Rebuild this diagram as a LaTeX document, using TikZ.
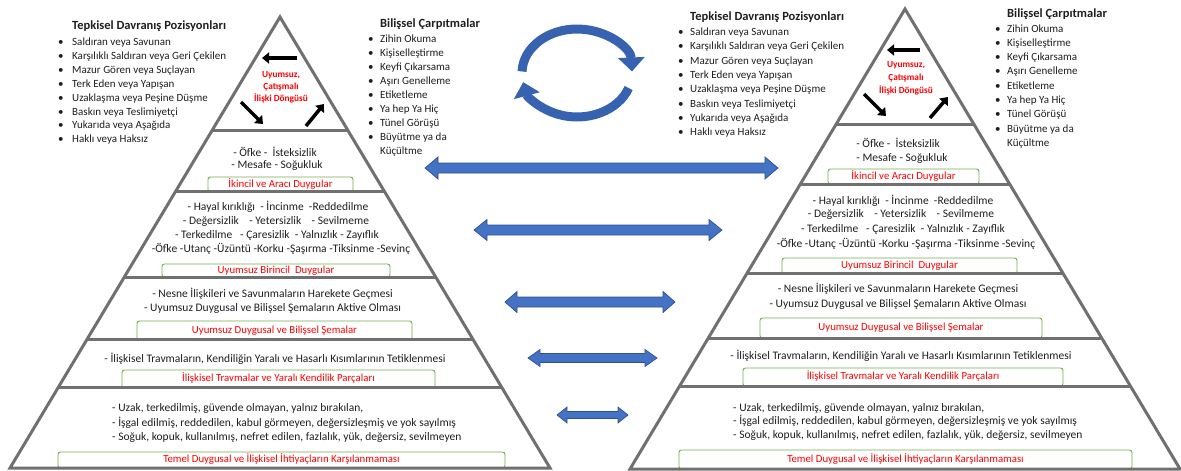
\documentclass[tikz,border=0pt]{standalone}
\usepackage{fontspec}
\setmainfont{Carlito}
\usetikzlibrary{arrows.meta,calc}
\definecolor{pgray}{RGB}{112,112,112}
\definecolor{gboxc}{RGB}{112,173,71}
\definecolor{redt}{RGB}{255,0,0}
\definecolor{bluef}{RGB}{68,114,196}
\definecolor{blued}{RGB}{47,82,143}
\definecolor{bluec}{RGB}{55,98,175}
\definecolor{txt}{RGB}{30,30,30}
\begin{document}
\begin{tikzpicture}[x=1pt,y=-1pt,
 pyr/.style={draw=pgray, line width=3pt, line join=miter},
 gbox/.style={draw=gboxc, line width=0.9pt, rounded corners=2.5pt, inner sep=0pt, text=redt, font=\fontsize{10.8}{12}\selectfont, text height=7.4pt, text depth=2pt},
 lst/.style={anchor=base west, inner sep=0pt, text=txt, font=\fontsize{11}{13}\selectfont},
 ttl/.style={anchor=base west, inner sep=0pt, text=txt, font=\bfseries\fontsize{12.5}{14}\selectfont},
 tier/.style={anchor=base, inner sep=0pt, text=txt, font=\fontsize{11.5}{13}\selectfont},
 tierl/.style={tier, anchor=base west},
 looptxt/.style={anchor=center, align=center, inner sep=0pt, text=redt, font=\bfseries\fontsize{9.3}{12}\selectfont},
 blk/.style={line width=3.5pt, -{Triangle[length=7pt,width=11pt]}},
 barrow/.style={fill=bluef, draw=blued, line width=0.7pt, line join=miter},
 carrow/.style={draw=bluec, line width=9pt, -{Triangle[length=14pt,width=26pt]}}
]
\useasboundingbox (0,0) rectangle (1181,471);

% ---------------- LEFT PYRAMID ----------------
\node[ttl] (LT0) at (72,29.5) {Tepkisel Davranış Pozisyonları};
\foreach \t [count=\i] in {Saldıran veya Savunan, Karşılıklı Saldıran veya Geri Çekilen, Mazur Gören veya Suçlayan, Terk Eden veya Yapışan, Uzaklaşma veya Peşine Düşme, Baskın veya Teslimiyetçi, Yukarıda veya Aşağıda, Haklı veya Haksız}{
  \node[lst] (LTb\i) at (58,{45.5+13.9*(\i-1)}) {•};
  \node[lst] (LT\i) at (72,{45.5+13.9*(\i-1)}) {\t};
}
\node[ttl] (LC0) at (380,27.8) {Bilişsel Çarpıtmalar};
\foreach \t [count=\i] in {Zihin Okuma, Kişiselleştirme, Keyfi Çıkarsama, Aşırı Genelleme, Etiketleme, Ya hep Ya Hiç, Tünel Görüşü, Büyütme ya da}{
  \node[lst] (LCb\i) at (368,{42+14.05*(\i-1)}) {•};
  \node[lst] (LC\i) at (380,{42+14.05*(\i-1)}) {\t};
}
\node[lst] (LC9) at (380,{42+14.05*8}) {Küçültme};

% boxes
\node[gbox, minimum width=145pt, minimum height=15pt] (LB2) at (280.5,184.5) {İkincil ve Aracı Duygular};
\node[gbox, minimum width=228pt, minimum height=13pt] (LB3) at (276,270.5) {Uyumsuz Birincil\ \ Duygular};
\node[gbox, minimum width=275pt, minimum height=19pt] (LB4) at (274.5,330.5) {Uyumsuz Duygusal ve Bilişsel Şemalar};
\node[gbox, minimum width=313pt, minimum height=18pt] (LB5) at (278.5,379) {İlişkisel Travmalar ve Yaralı Kendilik Parçaları};
\node[gbox, minimum width=447pt, minimum height=16pt] (LB6) at (281.5,460) {Temel Duygusal ve İlişkisel İhtiyaçların Karşılanmaması};

% tier texts
\node[tier] (L21) at (275,156) {- Öfke -\ \ İsteksizlik};
\node[tier] (L22) at (277,168) {- Mesafe - Soğukluk};
\node[tier] (L31) at (278,210.5) {- Hayal kırıklığı\ \ - İncinme\ \ -Reddedilme};
\node[tier] (L32) at (276,224) {- Değersizlik\ \ \ \ - Yetersizlik\ \ \ \ - Sevilmeme};
\node[tier] (L33) at (277,238.5) {- Terkedilme\ \ \ - Çaresizlik\ \ - Yalnızlık - Zayıflık};
\node[tier] (L34) at (281,252.5) {-Öfke -Utanç -Üzüntü -Korku -Şaşırma -Tiksinme -Sevinç};
\node[tier] (L41) at (272.5,297.5) {- Nesne İlişkileri ve Savunmaların Harekete Geçmesi};
\node[tier] (L42) at (272.5,311.5) {- Uyumsuz Duygusal ve Bilişsel Şemaların Aktive Olması};
\node[tier] (L51) at (275,362.5) {- İlişkisel Travmaların, Kendiliğin Yaralı ve Hasarlı Kısımlarının Tetiklenmesi};
\node[tierl] (L61) at (112,411.5) {- Uzak, terkedilmiş, güvende olmayan, yalnız bırakılan,};
\node[tierl] (L62) at (112,426.5) {- İşgal edilmiş, reddedilen, kabul görmeyen, değersizleşmiş ve yok sayılmış};
\node[tierl] (L63) at (112,440) {- Soğuk, kopuk, kullanılmış, nefret edilen, fazlalık, yük, değersiz, sevilmeyen};

% outline
\coordinate (LA) at (280,17); \coordinate (LL) at (10,468); \coordinate (LR) at (550,468);
\draw[pyr] (LA) -- (LL) -- (LR) -- cycle;
\foreach \y [count=\i] in {131,192,277,340,388}
  \draw[pyr] ($(LA)!{(\y-17)/451}!(LL)$) coordinate (Ll\i) -- ($(LA)!{(\y-17)/451}!(LR)$) coordinate (Lr\i);

% top loop
\node[looptxt] (LLoop) at (281,87) {Uyumsuz,\\Çatışmalı\\İlişki Döngüsü};
\coordinate (la1) at (297,58); \coordinate (la2) at (262,58);
\coordinate (lb1) at (241,102); \coordinate (lb2) at (263,124);
\coordinate (lc1) at (306,126); \coordinate (lc2) at (324,104);
\draw[blk] (la1) -- (la2);
\draw[blk] (lb1) -- (lb2);
\draw[blk] (lc1) -- (lc2);

% ---------------- RIGHT PYRAMID ----------------
\node[ttl] (RT0) at (690,20.5) {Tepkisel Davranış Pozisyonları};
\foreach \t [count=\i] in {Saldıran veya Savunan, Karşılıklı Saldıran veya Geri Çekilen, Mazur Gören veya Suçlayan, Terk Eden veya Yapışan, Uzaklaşma veya Peşine Düşme, Baskın veya Teslimiyetçi, Yukarıda veya Aşağıda, Haklı veya Haksız}{
  \node[lst] (RTb\i) at (678,{35.5+14.3*(\i-1)}) {•};
  \node[lst] (RT\i) at (690,{35.5+14.3*(\i-1)}) {\t};
}
\node[ttl] (RC0) at (1007,17.8) {Bilişsel Çarpıtmalar};
\foreach \t [count=\i] in {Zihin Okuma, Kişiselleştirme, Keyfi Çıkarsama, Aşırı Genelleme, Etiketleme, Ya hep Ya Hiç, Tünel Görüşü, Büyütme ya da}{
  \node[lst] (RCb\i) at (995,{32+14.3*(\i-1)}) {•};
  \node[lst] (RC\i) at (1007,{32+14.3*(\i-1)}) {\t};
}
\node[lst] (RC9) at (1007,{32+14.3*8}) {Küçültme};

\node[gbox, minimum width=151pt, minimum height=15pt] (RB2) at (903.5,176.5) {İkincil ve Aracı Duygular};
\node[gbox, minimum width=235pt, minimum height=16pt] (RB3) at (899.5,266) {Uyumsuz Birincil\ \ Duygular};
\node[gbox, minimum width=282pt, minimum height=20pt] (RB4) at (901,328) {Uyumsuz Duygusal ve Bilişsel Şemalar};
\node[gbox, minimum width=320pt, minimum height=18pt] (RB5) at (903,377) {İlişkisel Travmalar ve Yaralı Kendilik Parçaları};
\node[gbox, minimum width=453pt, minimum height=19pt] (RB6) at (905.5,459.5) {Temel Duygusal ve İlişkisel İhtiyaçların Karşılanmaması};

\node[tier] (R21) at (898,147) {- Öfke -\ \ İsteksizlik};
\node[tier] (R22) at (902,161) {- Mesafe - Soğukluk};
\node[tier] (R31) at (903,204) {- Hayal kırıklığı\ \ - İncinme\ \ -Reddedilme};
\node[tier] (R32) at (901,217.5) {- Değersizlik\ \ \ \ - Yetersizlik\ \ \ \ - Sevilmeme};
\node[tier] (R33) at (903,232.5) {- Terkedilme\ \ \ - Çaresizlik\ \ - Yalnızlık - Zayıflık};
\node[tier] (R34) at (906,247.5) {-Öfke -Utanç -Üzüntü -Korku -Şaşırma -Tiksinme -Sevinç};
\node[tier] (R41) at (898,292) {- Nesne İlişkileri ve Savunmaların Harekete Geçmesi};
\node[tier] (R42) at (898,307) {- Uyumsuz Duygusal ve Bilişsel Şemaların Aktive Olması};
\node[tier] (R51) at (901,359) {- İlişkisel Travmaların, Kendiliğin Yaralı ve Hasarlı Kısımlarının Tetiklenmesi};
\node[tierl] (R61) at (733,411) {- Uzak, terkedilmiş, güvende olmayan, yalnız bırakılan,};
\node[tierl] (R62) at (733,424.5) {- İşgal edilmiş, reddedilen, kabul görmeyen, değersizleşmiş ve yok sayılmış};
\node[tierl] (R63) at (733,438) {- Soğuk, kopuk, kullanılmış, nefret edilen, fazlalık, yük, değersiz, sevilmeyen};

\coordinate (RA) at (905,9); \coordinate (RL) at (630,469); \coordinate (RR) at (1180,469);
\draw[pyr] (RA) -- (RL) -- (RR) -- cycle;
\foreach \y [count=\i] in {124,184,274,338,386}
  \draw[pyr] ($(RA)!{(\y-9)/460}!(RL)$) coordinate (Rl\i) -- ($(RA)!{(\y-9)/460}!(RR)$) coordinate (Rr\i);

\node[looptxt, font=\bfseries\fontsize{9.3}{13}\selectfont] (RLoop) at (906,78) {Uyumsuz,\\Çatışmalı\\İlişki Döngüsü};
\coordinate (ra1) at (920,50); \coordinate (ra2) at (887,50);
\coordinate (rb1) at (864,94); \coordinate (rb2) at (886,116);
\coordinate (rc1) at (930,118); \coordinate (rc2) at (948,97);
\draw[blk] (ra1) -- (ra2);
\draw[blk] (rb1) -- (rb2);
\draw[blk] (rc1) -- (rc2);

% ---------------- MIDDLE ARROWS ----------------
\foreach \xa/\xb/\yy/\sh/\hh/\hl in {425/778/168/5/11/13, 474/722/230/5/10.5/13, 505/675/302/5/10.5/12, 528/657/358/4.5/8.5/12, 557/628/415/3.5/8/10}
  \filldraw[barrow] (\xa,\yy) -- (\xa+\hl,\yy-\hh) -- (\xa+\hl,\yy-\sh) -- (\xb-\hl,\yy-\sh) -- (\xb-\hl,\yy-\hh) -- (\xb,\yy) -- (\xb-\hl,\yy+\hh) -- (\xb-\hl,\yy+\sh) -- (\xa+\hl,\yy+\sh) -- (\xa+\hl,\yy+\hh) -- cycle;

% circular arrows
\coordinate (CC) at (577,73);
\draw[carrow] ($(CC)+(182:55 and 44)$) arc[start angle=182, end angle=358, x radius=55, y radius=44];
\draw[carrow] ($(CC)+(20:55 and 44)$) arc[start angle=20, end angle=168, x radius=55, y radius=44];
\end{tikzpicture}
\end{document}
